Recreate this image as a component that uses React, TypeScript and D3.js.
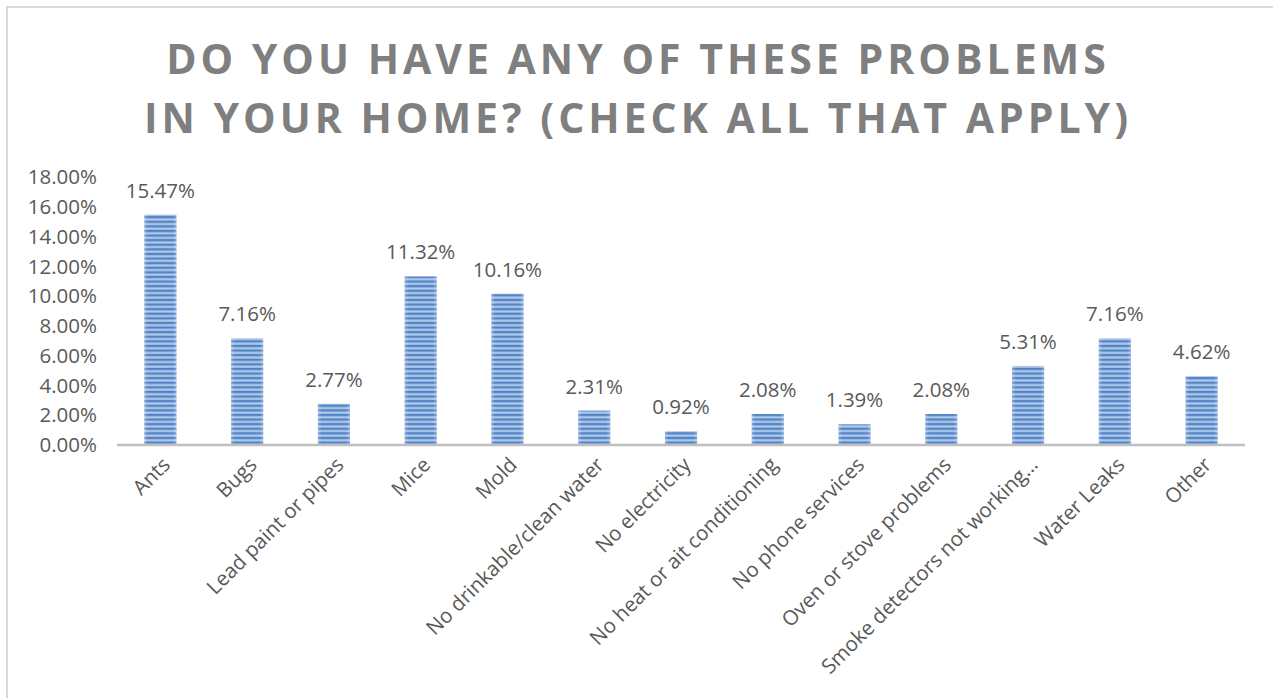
import React from "react";
import * as d3 from "d3";

const categories = [
  "Ants",
  "Bugs",
  "Lead paint or pipes",
  "Mice",
  "Mold",
  "No drinkable/clean water",
  "No electricity",
  "No heat or ait conditioning",
  "No phone services",
  "Oven or stove problems",
  "Smoke detectors not working…",
  "Water Leaks",
  "Other",
];
const values = [15.47, 7.16, 2.77, 11.32, 10.16, 2.31, 0.92, 2.08, 1.39, 2.08, 5.31, 7.16, 4.62];
const yTicks = [0, 2, 4, 6, 8, 10, 12, 14, 16, 18];
const titleLines = ["DO YOU HAVE ANY OF THESE PROBLEMS", "IN YOUR HOME? (CHECK ALL THAT APPLY)"];

const W = 1273;
const H = 698;
const plot = { left: 117, right: 1245, top: 177, bottom: 445 };

export default function App() {
  const x = d3
    .scaleBand<string>()
    .domain(categories)
    .range([plot.left, plot.right])
    .paddingInner(0.63)
    .paddingOuter(0.315);
  const y = d3.scaleLinear().domain([0, 18]).range([plot.bottom, plot.top]);
  const fmt = (v: number) => v.toFixed(2) + "%";
  const font = "'Open Sans', 'Liberation Sans', sans-serif";

  return (
    <svg
      width={W}
      height={H}
      style={{ position: "absolute", left: 0, top: 0, background: "#fff" }}
      fontFamily={font}
    >
      <defs>
        <linearGradient id="stripeGrad" x1="0" y1="0" x2="0" y2="1">
          <stop offset="0" stopColor="#4a7cc0" />
          <stop offset="0.45" stopColor="#5a8bcb" />
          <stop offset="0.55" stopColor="#c3d6ef" />
          <stop offset="1" stopColor="#92b2df" />
        </linearGradient>
        <pattern id="stripes" patternUnits="userSpaceOnUse" width="8" height="4.6">
          <rect width="8" height="4.6" fill="url(#stripeGrad)" />
        </pattern>
        <linearGradient id="edgeGrad" x1="0" y1="0" x2="1" y2="0">
          <stop offset="0" stopColor="#ffffff" stopOpacity="0.25" />
          <stop offset="0.12" stopColor="#ffffff" stopOpacity="0" />
          <stop offset="0.88" stopColor="#ffffff" stopOpacity="0" />
          <stop offset="1" stopColor="#ffffff" stopOpacity="0.25" />
        </linearGradient>
      </defs>
      <rect x={7} y={7} width={W + 10} height={H + 10} fill="#fff" stroke="#d9d9d9" strokeWidth={2} />

      {titleLines.map((t, i) => (
        <text
          key={i}
          x={638}
          y={74 + i * 59}
          textAnchor="middle"
          fontSize={41}
          fontWeight={700}
          letterSpacing={4}
          fill="#7f7f7f"
        >
          {t}
        </text>
      ))}

      {yTicks.map((t) => (
        <text
          key={t}
          x={97}
          y={y(t)}
          dy="0.35em"
          textAnchor="end"
          fontSize={20.5}
          fill="#595959"
        >
          {t.toFixed(2) + "%"}
        </text>
      ))}

      {categories.map((c, i) => {
        const bx = x(c)!;
        const bw = x.bandwidth();
        const top = y(values[i]);
        return (
          <g key={c}>
            <rect x={bx} y={top} width={bw} height={plot.bottom - top} fill="url(#stripes)" />
            <rect x={bx} y={top} width={bw} height={plot.bottom - top} fill="url(#edgeGrad)" />
            <text
              x={bx + bw / 2}
              y={top - 17}
              textAnchor="middle"
              fontSize={20.5}
              fill="#595959"
            >
              {fmt(values[i])}
            </text>
            <text
              transform={`translate(${bx + bw / 2 + 11},${plot.bottom + 21}) rotate(-45)`}
              textAnchor="end"
              fontSize={20.5}
              fill="#595959"
            >
              {c}
            </text>
          </g>
        );
      })}

      <line x1={plot.left} x2={plot.right} y1={plot.bottom} y2={plot.bottom} stroke="#bfbfbf" strokeWidth={2.5} />
    </svg>
  );
}
